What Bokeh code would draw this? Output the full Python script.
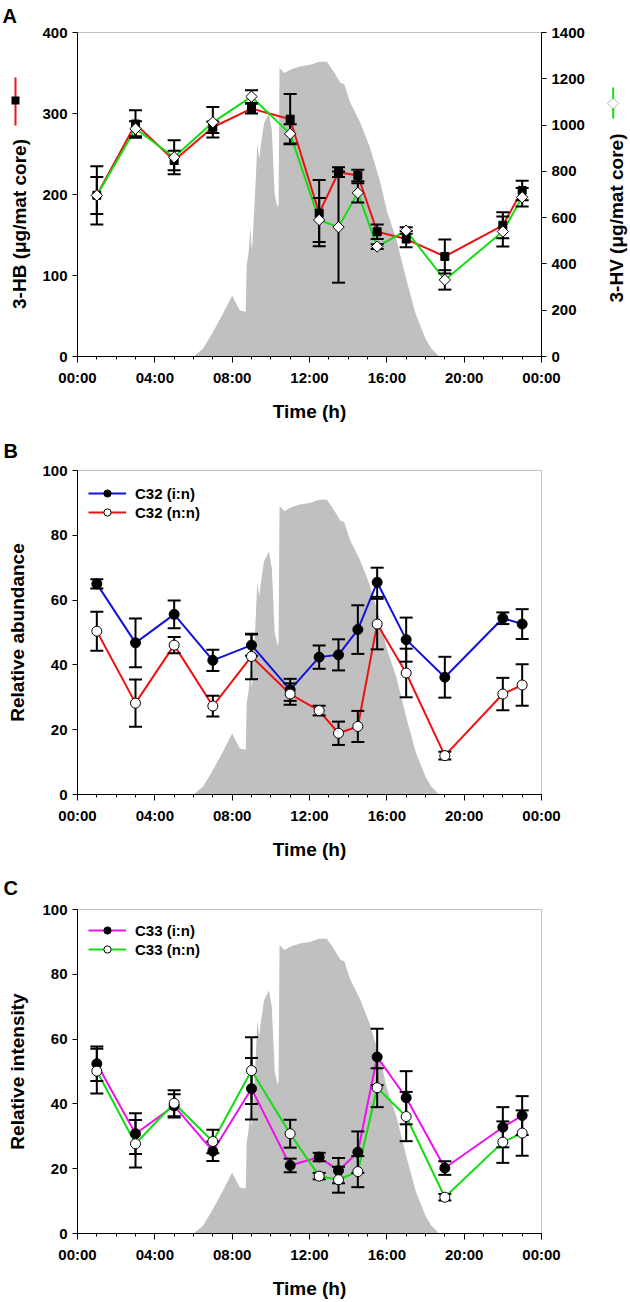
import math
from bokeh.plotting import figure
from bokeh.models import (Range1d, LinearAxis, FixedTicker, Legend, LegendItem, Label,
                          BoxAnnotation, PolyAnnotation)
from bokeh.layouts import column
from bokeh.embed import file_html
from bokeh.resources import INLINE

# ---------------- data ----------------
hours = [1, 3, 5, 7, 9, 11, 12.5, 13.5, 14.5, 15.5, 17, 19, 22, 23]

tick_hours = [0, 4, 8, 12, 16, 20, 24]
tick_labels = ["00:00", "04:00", "08:00", "12:00", "16:00", "20:00", "00:00"]
minor_hours = list(range(25))

# Panel A
hb = [199, 287, 242, 283, 306, 293, 177, 227.5, 223.5, 154, 145, 123.5, 162, 205]
hb_err = [36, 17, 12, 7, 6, 31, 41, 6, 7, 9, 10, 21, 16, 12]
hv = [696, 984, 861, 1012, 1123, 962, 590, 559, 707, 475, 544, 331, 540, 688]
hv_err = [80, 32, 73, 66, 28, 42, 95, 240, 42, 10, 14, 42, 65, 40]
hb_ticks = [0, 100, 200, 300, 400]
hv_ticks = [0, 200, 400, 600, 800, 1000, 1200, 1400]

# Panel B
c32_in = [65.0, 46.8, 55.6, 41.4, 46.1, 32.3, 42.4, 43.1, 50.9, 65.5, 47.8, 36.2, 54.4, 52.6]
c32_in_err = [1.4, 7.5, 4.3, 3.3, 3.3, 3.4, 3.6, 4.8, 7.5, 4.5, 6.8, 6.3, 1.8, 4.6]
c32_nn = [50.4, 28.2, 46.1, 27.3, 42.6, 31.0, 25.9, 18.9, 21.0, 52.6, 37.5, 12.0, 31.0, 33.8]
c32_nn_err = [6.0, 7.3, 2.5, 3.2, 7.0, 3.3, 1.5, 3.6, 4.8, 7.8, 7.5, 1.2, 5.0, 6.4]

# Panel C
c33_in = [52.4, 30.8, 39.4, 25.4, 44.7, 21.0, 23.6, 19.4, 25.1, 54.5, 41.9, 20.2, 32.8, 36.4]
c33_in_err = [5.3, 6.3, 3.6, 3.0, 9.5, 2.1, 1.3, 3.9, 6.4, 8.7, 8.2, 2.1, 6.2, 6.0]
c33_nn = [50.1, 27.7, 40.2, 28.4, 50.3, 30.8, 17.7, 16.6, 19.1, 45.0, 36.1, 11.2, 28.2, 31.0]
c33_nn_err = [6.9, 7.3, 4.0, 3.6, 10.3, 4.3, 1.0, 4.0, 4.8, 6.0, 7.6, 1.0, 6.4, 7.0]
pct_ticks = [0, 20, 40, 60, 80, 100]

# Solar radiation background (relative level, % of panel height)
sun_hours = [6.0, 6.5, 7.0, 7.5, 8.0, 8.15, 8.4, 8.7, 8.75, 8.85, 8.95, 9.0, 9.05, 9.2,
             9.3, 9.4, 9.5, 9.65, 9.9, 10.05, 10.2, 10.35, 10.4, 10.45, 10.7, 11.0, 11.5,
             12.0, 12.5, 12.9, 13.25, 13.6, 13.8, 14.1, 14.6, 15.1, 15.5, 15.65, 16.0,
             16.5, 17.0, 17.5, 18.0, 18.3, 18.7]
sun_level = [0, 2.5, 7.5, 13, 18.8, 17, 14.2, 13.8, 28, 32, 40, 33, 35, 52,
             65.5, 61, 66, 72, 75, 70, 50, 46, 47, 89, 87.5, 88.5, 89.5,
             90, 91, 91, 88, 84.5, 84, 78.5, 72.5, 65, 57, 54, 45,
             36, 24, 13, 5.5, 2.5, 0]

# ---------------- layout / styling ----------------
FONT = "Liberation Sans"
W = 630
BOX_L, BOX_R = 77, 541          # data box, pixels from canvas left
PX_H = (BOX_R - BOX_L) / 24.0
X_LO = -BOX_L / PX_H
X_HI = 24 + (W - BOX_R) / PX_H
GRAY = "#c0c0c0"
RED = "#ee1111"
GREEN = "#11dd11"
BLUE = "#1111dd"
MAGENTA = "#ee11ee"


def style_axis(ax):
    ax.axis_line_color = "black"
    ax.axis_line_width = 1
    ax.major_tick_line_color = "black"
    ax.minor_tick_line_color = "black"
    ax.major_tick_in = 0
    ax.major_tick_out = 6
    ax.minor_tick_in = 0
    ax.minor_tick_out = 3
    ax.major_label_text_font = FONT
    ax.major_label_text_font_style = "bold"
    ax.major_label_text_font_size = "15px"
    ax.major_label_text_color = "black"
    ax.axis_label_text_font = FONT
    ax.axis_label_text_font_style = "bold"
    ax.axis_label_text_font_size = "19px"
    ax.axis_label_text_color = "black"


def slabel(p, text, x, y, size, angle=0.0, align="left", baseline="top"):
    p.add_layout(Label(x=x, y=y, x_units="screen", y_units="screen", text=text,
                       angle=angle, text_align=align, text_baseline=baseline,
                       text_font=FONT, text_font_style="bold", text_font_size=size,
                       text_color="black"))


def make_fig(height, box_top, box_bottom, y_max, y_ticks, ylabel=None):
    scale = (box_bottom - box_top) / y_max
    y_lo = -(height - box_bottom) / scale
    y_hi = y_max + box_top / scale
    p = figure(width=W, height=height, x_range=Range1d(X_LO, X_HI),
               y_range=Range1d(y_lo, y_hi), output_backend="svg", toolbar_location=None,
               min_border=0, x_axis_location="below", y_axis_location="left")
    p.extra_y_ranges = {"sun": Range1d(y_lo * 100 / y_max, y_hi * 100 / y_max)}
    p.xgrid.visible = False
    p.ygrid.visible = False
    p.outline_line_color = None
    p.background_fill_color = "white"
    p.border_fill_color = "white"
    xa = p.xaxis[0]
    xa.fixed_location = 0
    xa.bounds = (0, 24)
    xa.ticker = FixedTicker(ticks=tick_hours, minor_ticks=minor_hours)
    xa.major_label_overrides = {h: l for h, l in zip(tick_hours, tick_labels)}
    xa.axis_label = "Time (h)"
    style_axis(xa)
    xa.major_label_standoff = 6
    xa.axis_label_standoff = 12
    ya = p.yaxis[0]
    ya.fixed_location = 0
    ya.bounds = (0, y_max)
    ya.ticker = FixedTicker(ticks=y_ticks, minor_ticks=[])
    style_axis(ya)
    ya.major_tick_out = 5
    ya.major_label_standoff = 5
    if ylabel:
        ya.axis_label = ylabel
        ya.axis_label_standoff = 11
    p.varea(x=sun_hours, y1=0, y2=sun_level, y_range_name="sun", fill_color=GRAY)
    # frame of the data box
    p.add_layout(BoxAnnotation(left=0, right=24, bottom=0, top=y_max, fill_alpha=0,
                               line_color="#333333", line_width=1, level="underlay"))
    return p


def errbars(p, x, y, e, **kw):
    lo = [a - b for a, b in zip(y, e)]
    hi = [a + b for a, b in zip(y, e)]
    p.segment(x0=x, y0=lo, x1=x, y1=hi, line_color="black", line_width=2, **kw)
    p.scatter(x=list(x) + list(x), y=lo + hi, marker="dash", size=13,
              line_color="black", line_width=2, **kw)


def screen_box(p, l, r, b, t, color):
    p.add_layout(BoxAnnotation(left=l, right=r, bottom=b, top=t,
                               left_units="screen", right_units="screen",
                               bottom_units="screen", top_units="screen",
                               fill_color=color, fill_alpha=1, line_alpha=0))


def add_legend(p, items, loc):
    lg = Legend(items=items, location=loc, margin=0, padding=12, spacing=1,
                glyph_width=38, glyph_height=18, label_standoff=9, label_height=18,
                border_line_alpha=0, background_fill_alpha=0,
                label_text_font=FONT, label_text_font_style="bold",
                label_text_font_size="15px", label_text_color="black")
    p.add_layout(lg)


# ---------------- Panel A ----------------
HA = 432
pA = make_fig(HA, 32, 356, 400, hb_ticks)
yA = pA.y_range
pA.extra_y_ranges["hv"] = Range1d(yA.start * 3.5, yA.end * 3.5)
ra = LinearAxis(y_range_name="hv", ticker=FixedTicker(ticks=hv_ticks, minor_ticks=[]),
                fixed_location=24, bounds=(0, 1400))
style_axis(ra)
ra.major_tick_out = 5
ra.major_label_standoff = 5
pA.add_layout(ra, "right")

pA.line(hours, hb, line_color=RED, line_width=2)
pA.line(hours, hv, line_color=GREEN, line_width=2, y_range_name="hv")
errbars(pA, hours, hb, hb_err)
errbars(pA, hours, hv, hv_err, y_range_name="hv")
pA.scatter(hours, hb, marker="square", size=8, fill_color="black", line_color="black")
pA.scatter(hours, hv, marker="square", angle=math.pi / 4, size=8, fill_color="white",
           line_color="black", line_width=1, y_range_name="hv")

slabel(pA, "A", 2, HA - 4, "20px")
slabel(pA, "3-HB (μg/mat core)", 18.5, HA - 223.5, "19px", angle=math.pi / 2,
       align="center", baseline="middle")
slabel(pA, "3-HV (μg/mat core)", 616, HA - 217.5, "19px", angle=math.pi / 2,
       align="center", baseline="middle")
# keys beside the two axis titles
screen_box(pA, 14, 16, HA - 125, HA - 77, RED)
screen_box(pA, 11, 19, HA - 104, HA - 96, "black")
screen_box(pA, 611.7, 613.7, HA - 118, HA - 87, GREEN)
cx, cy = 612.7, HA - 103
pA.add_layout(PolyAnnotation(xs=[cx, cx + 5.5, cx, cx - 5.5], ys=[cy + 5.5, cy, cy - 5.5, cy],
                             xs_units="screen", ys_units="screen",
                             fill_color="white", fill_alpha=1, line_color="black",
                             line_width=1))

# ---------------- Panel B ----------------
HB = 436
pB = make_fig(HB, 38, 362, 100, pct_ticks, ylabel="Relative abundance")
lb1 = pB.line(hours, c32_in, line_color=BLUE, line_width=2)
lb2 = pB.line(hours, c32_nn, line_color=RED, line_width=2)
errbars(pB, hours, c32_in, c32_in_err)
errbars(pB, hours, c32_nn, c32_nn_err)
mb1 = pB.scatter(hours, c32_in, marker="circle", size=10, fill_color="black", line_color="black")
mb2 = pB.scatter(hours, c32_nn, marker="circle", size=10, fill_color="white", line_color="black")
slabel(pB, "B", 3, HB - 7, "20px")
add_legend(pB, [LegendItem(label="C32 (i:n)", renderers=[lb1, mb1]),
                LegendItem(label="C32 (n:n)", renderers=[lb2, mb2])], (76, HB - 101))

# ---------------- Panel C ----------------
HC = 434
pC = make_fig(HC, 41, 365, 100, pct_ticks, ylabel="Relative intensity")
lc1 = pC.line(hours, c33_in, line_color=MAGENTA, line_width=2)
lc2 = pC.line(hours, c33_nn, line_color=GREEN, line_width=2)
errbars(pC, hours, c33_in, c33_in_err)
errbars(pC, hours, c33_nn, c33_nn_err)
mc1 = pC.scatter(hours, c33_in, marker="circle", size=10, fill_color="black", line_color="black")
mc2 = pC.scatter(hours, c33_nn, marker="circle", size=10, fill_color="white", line_color="black")
slabel(pC, "C", 3, HC - 8, "20px")
add_legend(pC, [LegendItem(label="C33 (i:n)", renderers=[lc1, mc1]),
                LegendItem(label="C33 (n:n)", renderers=[lc2, mc2])], (76, HC - 102))

layout = column(pA, pB, pC, spacing=0)
open("out.html", "w").write(file_html(layout, INLINE))
